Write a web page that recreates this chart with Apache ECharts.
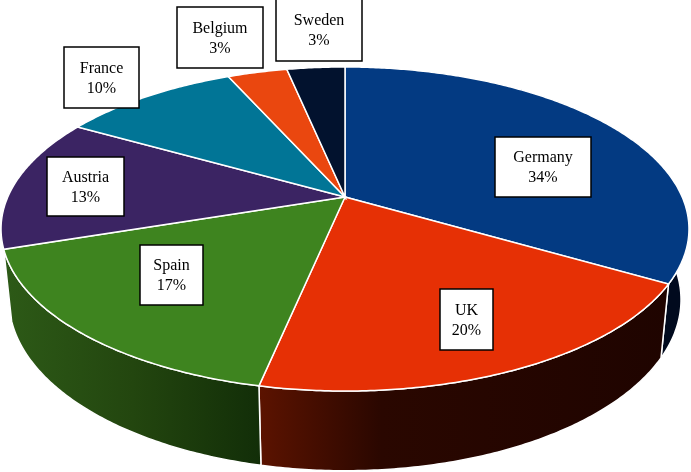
<!DOCTYPE html>
<html>
<head>
<meta charset="utf-8">
<title>Pie</title>
<script src="https://cdn.jsdelivr.net/npm/echarts@6/dist/echarts.min.js"></script>
<style>
  html, body { margin: 0; padding: 0; background: #fff; }
  #chart { width: 691px; height: 472px; }
</style>
</head>
<body>
<div id="chart"></div>
<script>
// data, clockwise from 12 o'clock
const countries = ['Germany', 'UK', 'Spain', 'Austria', 'France', 'Belgium', 'Sweden']
const shares = [33.4, 19.9, 16.6, 13.3, 10.1, 3.4, 3.3] // slice sizes as drawn
const percentLabels = ['34%', '20%', '17%', '13%', '10%', '3%', '3%']

// colours
const topColors = ['#033a82', '#e63005', '#3e841f', '#3b2463', '#017596', '#ea470f', '#02122e']
// only the front slices show a wall
const wallStops = [
  [[0, '#010a1e'], [1, '#010a1e']],
  [[0, '#5c1300'], [0.3, '#2a0700'], [1, '#1f0400']],
  [[0, '#2d5a17'], [0.5, '#23460f'], [1, '#122e08']],
  null,
  null,
  null,
  null
]

// label boxes: x, y, w, h
const labelBoxes = [
  [495, 137, 96, 60],
  [440, 289, 53, 61],
  [140, 245, 63, 60],
  [47, 157, 77, 59],
  [64, 47, 75, 61],
  [177, 7, 86, 61],
  [276, -2, 86, 63]
]

// perspective disc: top face and the lower rim
const tilt = -0.1975
const centerX = 345
const topFace = { rx: 337.2, ry: 155.7, y: 197 }
const lowerRim = { rx: 329.4, ry: 164.3, y: 266 }

const total = shares.reduce((a, b) => a + b, 0)
const startAngles = []
let sum = 0
shares.forEach(s => {
  startAngles.push(sum / total * Math.PI * 2)
  sum += s
})

// angle on the disc -> screen point
const project = (angle, face) => {
  const u = Math.sin(angle)
  const v = -Math.cos(angle)
  const w = 1 + tilt * v
  return [centerX + face.rx * u / w, face.y + face.ry * v / w]
}

const arcPoints = (index, face) => {
  const start = startAngles[index]
  const end = start + shares[index] / total * Math.PI * 2
  const steps = Math.ceil((end - start) / 0.01)
  const pts = []
  for (let i = 0; i <= steps; i++) {
    pts.push(project(start + (end - start) * i / steps, face))
  }
  return pts
}

const renderWall = (params) => {
  const i = params.dataIndex
  if (!wallStops[i]) return null
  const points = arcPoints(i, topFace).concat(arcPoints(i, lowerRim).reverse())
  const stops = wallStops[i].map(s => ({ offset: s[0], color: s[1] }))
  return {
    type: 'polygon',
    shape: { points },
    style: {
      fill: new echarts.graphic.LinearGradient(0, 0, 1, 0, stops),
      stroke: '#fff',
      lineWidth: 1.5
    }
  }
}

const renderTop = (params) => {
  const i = params.dataIndex
  const points = [[centerX, topFace.y]].concat(arcPoints(i, topFace))
  return {
    type: 'polygon',
    shape: { points },
    style: { fill: topColors[i], stroke: '#fff', lineWidth: 1.5 }
  }
}

const renderLabel = (params) => {
  const i = params.dataIndex
  const [x, y, w, h] = labelBoxes[i]
  return {
    type: 'group',
    children: [
      {
        type: 'rect',
        shape: { x: x, y: y, width: w, height: h },
        style: { fill: '#fff', stroke: '#000', lineWidth: 1.5 }
      },
      {
        type: 'text',
        style: {
          x: x + w / 2,
          y: y + h / 2 + 1,
          text: countries[i] + '\n' + percentLabels[i],
          fill: '#000',
          font: '16px "Liberation Serif"',
          lineHeight: 20,
          align: 'center',
          verticalAlign: 'middle'
        }
      }
    ]
  }
}

const chart = echarts.init(document.getElementById('chart'))
chart.setOption({
  animation: false,
  series: [
    { type: 'custom', coordinateSystem: 'none', data: shares, renderItem: renderWall, silent: true },
    { type: 'custom', coordinateSystem: 'none', data: shares, renderItem: renderTop, silent: true },
    { type: 'custom', coordinateSystem: 'none', data: shares, renderItem: renderLabel, silent: true }
  ]
})
</script>
</body>
</html>
